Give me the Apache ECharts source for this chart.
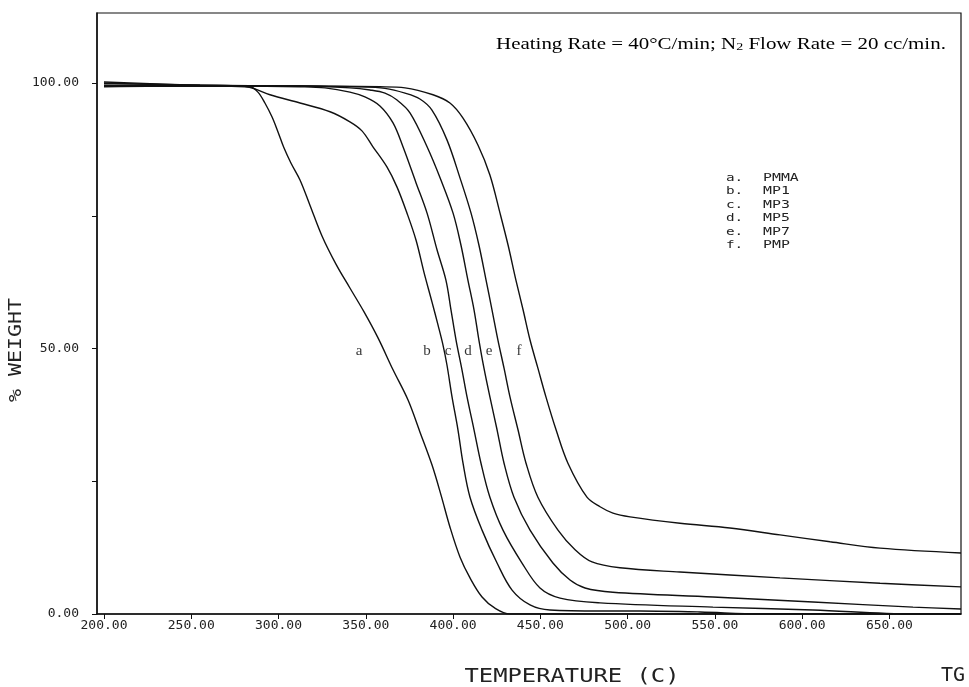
<!DOCTYPE html>
<html>
<head>
    <title>TG</title>
    <meta charset="UTF-8">
    <script type="text/javascript" src="https://cdn.jsdelivr.net/npm/echarts@6/dist/echarts.min.js"></script>
    <style>
        html, body { margin: 0; padding: 0; background: #fff; }
        #main { width: 969px; height: 687px; }
    </style>
</head>
<body>
<div id="main"></div>
<script type="text/javascript">
    // tick values
    var xTicks = [200, 250, 300, 350, 400, 450, 500, 550, 600, 650];
    var yTicks = [0, 25, 50, 75, 100];
    var yLabelValues = [0, 50, 100];

    var letters = ['a', 'b', 'c', 'd', 'e', 'f'];
    var names = ['PMMA', 'MP1', 'MP3', 'MP5', 'MP7', 'PMP'];

    // [temperature, % weight]
    var pmma = [[200,100.2],[243.5,99.7],[283.7,99.3],[288.2,98.3],[292.2,96.25],[296.3,93.6],[299.7,90.8],[303.1,87.8],[307.1,84.95],[312.3,81.75],[318.0,77.0],[324.9,71.2],[332.9,65.9],[340.9,61.4],[349.0,56.9],[357.0,52.0],[365.6,46.0],[374.2,40.3],[381.0,34.3],[387.9,28.1],[393.1,22.4],[398.2,16.4],[404.0,10.7],[409.7,6.8],[416.6,3.2],[424.0,1.1],[432.6,0],[450,0],[691,0]];
    var mp1 = [[200,99.5],[243.6,99.5],[280.8,99.3],[286.5,98.9],[295.1,97.8],[312.3,96.25],[329.5,94.6],[340.9,92.7],[347.8,91.0],[354.1,88.0],[362.1,84.2],[367.9,80.4],[373.6,75.5],[378.8,70.4],[383.3,64.4],[387.9,58.8],[391.4,54.4],[394.2,50.7],[396.5,46.9],[399.4,40.9],[402.8,34.7],[405.7,28.4],[409.7,22.0],[416.6,15.8],[425.2,9.6],[433.8,4.5],[444.1,1.7],[455.5,0.75],[484.2,0.57],[507.1,0.57],[541.5,0.38],[575.8,0],[691,0]];
    var mp3 = [[200,99.9],[255.0,99.6],[312.3,99.3],[326.6,99.1],[340.9,98.3],[349.5,97.4],[358.1,95.7],[365.6,92.5],[371.3,88.0],[378.8,81.2],[385.1,75.5],[390.8,68.6],[395.9,62.9],[398.8,57.3],[401.7,51.6],[405.1,46.0],[408.0,40.9],[412.0,34.7],[416.0,28.4],[421.1,22.0],[428.6,15.8],[439.5,9.6],[449.8,4.9],[461.3,3.0],[484.2,2.1],[548.9,1.3],[606.2,0.75],[663.5,0],[691,0]];
    var mp5 = [[200,99.3],[255.0,99.5],[312.3,99.45],[340.9,99.1],[352.4,98.7],[361.0,98.1],[367.9,96.8],[375.3,94.4],[385.1,88.0],[393.1,81.7],[400.0,75.5],[404.5,69.5],[408.5,62.9],[412.0,57.3],[414.8,51.6],[417.7,46.3],[421.1,40.9],[425.2,34.7],[429.2,28.4],[434.9,22.0],[444.1,15.8],[457.2,9.6],[467.0,6.4],[475.6,4.9],[491.6,4.1],[548.9,3.2],[606.2,2.26],[663.5,1.3],[691,0.95]];
    var mp7 = [[200,100.0],[255.0,99.6],[312.3,99.45],[346.7,99.3],[361.0,99.0],[372.5,98.1],[381.0,97.0],[387.9,94.9],[396.5,89.3],[404.0,82.1],[410.3,75.5],[414.8,69.5],[418.9,62.9],[422.3,57.3],[425.7,51.6],[429.2,46.3],[432.6,40.9],[437.2,34.7],[441.8,28.4],[448.6,22.0],[460.1,15.8],[469.9,12.1],[479.6,9.8],[495.6,8.7],[530.0,7.9],[587.3,6.8],[644.6,5.8],[691,5.1]];
    var pmp = [[200,99.6],[255.0,99.4],[312.3,99.45],[358.1,99.3],[372.5,99.1],[388.5,97.8],[398.2,96.25],[405.7,93.4],[414.3,88.3],[421.1,82.7],[426.9,75.5],[431.5,69.5],[436.0,62.9],[440.1,57.3],[444.1,51.6],[448.6,46.3],[453.2,40.9],[459.0,34.7],[465.8,28.4],[476.7,22.0],[484.2,20.2],[491.6,19.0],[501.4,18.3],[530.0,17.1],[558.6,16.2],[587.3,14.9],[616.0,13.6],[644.6,12.4],[691,11.5]];

    // where the curve letters sit
    var letterTemps = [346.1, 385.1, 397.1, 408.5, 420.6, 437.8];
    var letterWeight = 49.5;

    var curves = [pmma, mp1, mp3, mp5, mp7, pmp];

    var mono = "'DejaVu Sans Mono', 'Liberation Mono', monospace";
    var serif = "'Liberation Serif', 'DejaVu Serif', serif";

    var series = [];
    for (var i = 0; i < curves.length; i++) {
        series.push({
            name: names[i],
            type: 'line',
            data: curves[i],
            showSymbol: false,
            smooth: 0.35,
            lineStyle: { color: '#111', width: 1.4 },
            silent: true
        });
    }
    var letterData = [];
    for (var j = 0; j < letters.length; j++) {
        letterData.push({ name: letters[j], value: [letterTemps[j], letterWeight] });
    }
    series.push({
        type: 'scatter',
        data: letterData,
        symbolSize: 1,
        itemStyle: { color: 'rgba(0,0,0,0)' },
        silent: true,
        label: {
            show: true,
            position: 'inside',
            formatter: '{b}',
            color: '#000',
            fontFamily: serif,
            fontSize: 15
        }
    });

    // legend block
    var graphics = [];
    for (var k = 0; k < names.length; k++) {
        var yy = 178 + k * 13.5;
        graphics.push({
            type: 'text', x: 726, y: yy, scaleX: 1.3,
            style: { text: letters[k] + '.', font: '11px ' + mono, fill: '#222', textVerticalAlign: 'middle' }
        });
        graphics.push({
            type: 'text', x: 763, y: yy, scaleX: 1.35,
            style: { text: names[k], font: '11px ' + mono, fill: '#222', textVerticalAlign: 'middle' }
        });
    }
    graphics.push({
        type: 'text', x: 496, y: 43, scaleX: 1.27,
        style: {
            text: '{n|Heating Rate = 40°C/min; N}{s|2}{n| Flow Rate = 20 cc/min.}',
            textVerticalAlign: 'middle',
            rich: {
                n: { fontFamily: serif, fontSize: 16.5, color: '#111', lineHeight: 20, verticalAlign: 'bottom' },
                s: { fontFamily: serif, fontSize: 11, color: '#111', lineHeight: 8, verticalAlign: 'bottom' }
            }
        }
    });
    graphics.push({
        type: 'text', x: 572, y: 677, scaleX: 1.19,
        style: { text: 'TEMPERATURE (C)', font: '20px ' + mono, fill: '#222', textAlign: 'center', textVerticalAlign: 'middle' }
    });
    graphics.push({
        type: 'text', x: 953, y: 676,
        style: { text: 'TG', font: '20px ' + mono, fill: '#222', textAlign: 'center', textVerticalAlign: 'middle' }
    });
    graphics.push({
        type: 'text', x: 16, y: 350, rotation: Math.PI / 2, scaleX: 1.2,
        style: { text: '% WEIGHT', font: '18px ' + mono, fill: '#222', textAlign: 'center', textVerticalAlign: 'middle' }
    });

    var myChart = echarts.init(document.getElementById('main'));
    myChart.setOption({
        animation: false,
        backgroundColor: '#fff',
        grid: {
            left: 97, right: 8, top: 13, bottom: 73,
            show: true, borderColor: '#111', borderWidth: 1.2
        },
        xAxis: {
            type: 'value',
            min: 196,
            max: 691,
            axisLine: { lineStyle: { color: '#111', width: 1.5 } },
            axisTick: { customValues: xTicks, length: 5, lineStyle: { color: '#111' } },
            axisLabel: {
                customValues: xTicks,
                margin: 5,
                color: '#222',
                fontFamily: mono,
                fontSize: 13,
                formatter: function (v) { return v.toFixed(2); }
            },
            splitLine: { show: false }
        },
        yAxis: {
            type: 'value',
            min: 0,
            max: 113.2,
            axisLine: { show: true, lineStyle: { color: '#111', width: 1.5 } },
            axisTick: { show: true, customValues: yTicks, length: 5, lineStyle: { color: '#111' } },
            axisLabel: {
                customValues: yLabelValues,
                margin: 18,
                color: '#222',
                fontFamily: mono,
                fontSize: 13,
                formatter: function (v) { return v.toFixed(2); }
            },
            splitLine: { show: false }
        },
        graphic: graphics,
        series: series
    });
</script>
</body>
</html>
